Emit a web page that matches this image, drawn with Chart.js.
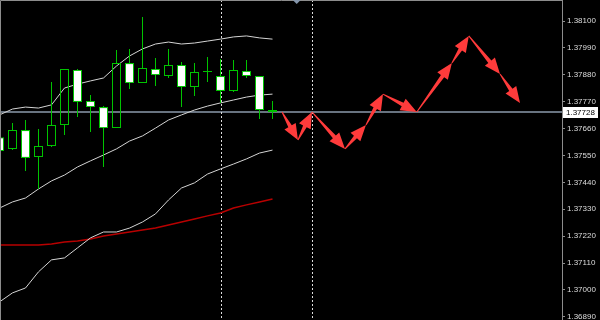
<!DOCTYPE html>
<html>
<head>
<meta charset="UTF-8">
<title>Price chart</title>
<script src="https://cdn.jsdelivr.net/npm/chart.js"></script>
<style>
    html,body{margin:0;padding:0;background:#000;}
    .wrap{width:600px;height:320px;}
</style>
</head>
<body>
<div class="wrap"><canvas id="priceChart" width="600" height="320"></canvas></div>
<script>
/* candles, oldest first (index = bar number) */
const opens  = [1.37625,1.37577,1.37654,1.37544,1.37589,1.37675,1.37900,1.37773,1.37748,1.37662,1.37928,
                1.37846,1.37904,1.37875,1.37920,1.37830,1.37891,1.37875,1.37814,1.37896,1.37875,1.37736];
const highs  = [1.37650,1.37683,1.37695,1.37658,1.37851,1.37904,1.37904,1.37797,1.37752,1.37981,1.37986,
                1.38116,1.37949,1.37986,1.37932,1.37928,1.37953,1.37945,1.37941,1.37941,1.37875,1.37773];
const lows   = [1.37560,1.37572,1.37487,1.37413,1.37585,1.37634,1.37707,1.37646,1.37503,1.37662,1.37822,
                1.37846,1.37834,1.37867,1.37748,1.37793,1.37851,1.37765,1.37810,1.37867,1.37699,1.37699];
const closes = [1.37568,1.37654,1.37540,1.37589,1.37675,1.37904,1.37769,1.37748,1.37662,1.37928,1.37846,
                1.37908,1.37879,1.37920,1.37830,1.37891,1.37891,1.37814,1.37900,1.37875,1.37736,1.37728];

/* indicators */
const upperBand  = [1.37716,1.37740,1.37748,1.37744,1.37757,1.37826,1.37842,1.37855,1.37867,1.37916,1.37957,
                    1.37986,1.38006,1.38014,1.38006,1.38010,1.38018,1.38026,1.38035,1.38039,1.38031,1.38026];
const middleBand = [1.37335,1.37360,1.37376,1.37413,1.37446,1.37470,1.37503,1.37528,1.37552,1.37577,1.37609,
                    1.37630,1.37662,1.37695,1.37716,1.37736,1.37752,1.37765,1.37777,1.37789,1.37797,1.37801];
const lowerBand  = [1.36951,1.36988,1.37008,1.37074,1.37123,1.37131,1.37172,1.37213,1.37237,1.37237,1.37253,
                    1.37278,1.37311,1.37368,1.37417,1.37438,1.37474,1.37495,1.37515,1.37536,1.37560,1.37572];
const maLine     = [1.37184,1.37184,1.37184,1.37184,1.37188,1.37196,1.37200,1.37208,1.37221,1.37229,1.37237,
                    1.37245,1.37253,1.37266,1.37278,1.37290,1.37303,1.37315,1.37335,1.37348,1.37360,1.37372];

/* forecast path (arrows) */
const forecastX = [21.73,22.96,24.04,26.58,28.19,29.5,32.1,34.8,36.1,38.5,40.04];
const forecastY = [1.37728,1.37613,1.37728,1.37577,1.37675,1.37801,1.37728,1.37928,1.38039,1.37883,1.37765];

/* price axis */
const priceTicks = [1.38100,1.37990,1.37880,1.37770,1.37660,1.37550,1.37440,1.37330,1.37220,1.37110,1.37000,1.36890];
const bidPrice = 1.37728;
const separators = [17, 24];
const shiftMarker = 22.86;

const GREEN = '#00c400';
const isBear = i => closes[i] < opens[i];

const idx = opens.map((_, i) => i);
const bodies = idx.map(i => ({x: i, y: [opens[i], closes[i]]}));
const upWicks = idx.map(i => ({x: i, y: [Math.max(opens[i], closes[i]), highs[i]]}));
const loWicks = idx.map(i => ({x: i, y: [lows[i], Math.min(opens[i], closes[i])]}));
const asLine = arr => arr.map((v, i) => ({x: i, y: v}));

function drawArrow(ctx, x0, y0, x1, y1){
    const dx = x1 - x0, dy = y1 - y0, len = Math.hypot(dx, dy);
    const ux = dx / len, uy = dy / len, nx = -uy, ny = ux;
    const head = Math.min(16, len * 0.55), hw = 6.5, sw = 2;
    const bx = x1 - ux * head, by = y1 - uy * head;
    ctx.beginPath();
    ctx.moveTo(x0 + nx * 0.5, y0 + ny * 0.5);
    ctx.lineTo(bx + nx * sw, by + ny * sw);
    ctx.lineTo(bx + nx * hw, by + ny * hw);
    ctx.lineTo(x1, y1);
    ctx.lineTo(bx - nx * hw, by - ny * hw);
    ctx.lineTo(bx - nx * sw, by - ny * sw);
    ctx.lineTo(x0 - nx * 0.5, y0 - ny * 0.5);
    ctx.closePath();
    ctx.fill();
}

const decorations = {
    id: 'decorations',
    beforeDatasetsDraw(chart){
        const {ctx, chartArea: a, scales: {x, y}} = chart;
        ctx.save();
        // bid line
        const by = Math.round(y.getPixelForValue(bidPrice));
        ctx.strokeStyle = '#687380';
        ctx.lineWidth = 2;
        ctx.beginPath(); ctx.moveTo(a.left, by); ctx.lineTo(a.right, by); ctx.stroke();
        // period separators
        ctx.strokeStyle = '#dcdcdc';
        ctx.lineWidth = 1;
        ctx.setLineDash([2, 2]);
        separators.forEach(s => {
            const px = Math.round(x.getPixelForValue(s)) + 0.5;
            ctx.beginPath(); ctx.moveTo(px, a.top); ctx.lineTo(px, a.bottom); ctx.stroke();
        });
        ctx.restore();
    },
    afterDatasetsDraw(chart){
        const {ctx, chartArea: a, scales: {x}} = chart;
        const pts = chart.getDatasetMeta(chart.data.datasets.length - 1).data;
        ctx.save();
        ctx.beginPath(); ctx.rect(a.left, a.top, a.right - a.left, a.bottom - a.top); ctx.clip();
        ctx.fillStyle = '#ff3b3b';
        for (let i = 1; i < pts.length; i++) drawArrow(ctx, pts[i-1].x, pts[i-1].y, pts[i].x, pts[i].y);
        // frame
        ctx.strokeStyle = '#8c8c8c';
        ctx.lineWidth = 1;
        ctx.beginPath();
        ctx.moveTo(a.left + 0.5, a.bottom); ctx.lineTo(a.left + 0.5, a.top + 0.5); ctx.lineTo(a.right, a.top + 0.5);
        ctx.stroke();
        // chart shift marker
        const mx = x.getPixelForValue(shiftMarker);
        ctx.fillStyle = '#8495ab';
        ctx.beginPath(); ctx.moveTo(mx - 4, a.top); ctx.lineTo(mx + 4, a.top); ctx.lineTo(mx, a.top + 4); ctx.closePath(); ctx.fill();
        ctx.restore();
    },
    afterDraw(chart){
        const {ctx, chartArea: a, scales: {y}} = chart;
        const by = Math.round(y.getPixelForValue(bidPrice));
        ctx.save();
        ctx.fillStyle = '#ffffff';
        ctx.fillRect(a.right + 1, by - 5, 35, 11);
        ctx.fillStyle = '#000000';
        ctx.font = '8px "Liberation Sans", Arial, sans-serif';
        ctx.textBaseline = 'middle';
        ctx.fillText(bidPrice.toFixed(5), a.right + 4, by + 0.5);
        ctx.restore();
    }
};

const barCommon = {type: 'bar', grouped: false, inflateAmount: 0, borderSkipped: false};
const lineCommon = {type: 'line', pointRadius: 0, tension: 0, fill: false};

new Chart(document.getElementById('priceChart'), {
    type: 'bar',
    data: {
        datasets: [
            {...barCommon, data: bodies, barThickness: 9, minBarLength: 1, borderWidth: 1,
             borderColor: GREEN, backgroundColor: idx.map(i => isBear(i) ? '#ffffff' : 'rgba(0,0,0,0)')},
            {...barCommon, data: upWicks, barThickness: 1, borderWidth: 0, backgroundColor: GREEN},
            {...barCommon, data: loWicks, barThickness: 1, borderWidth: 0, backgroundColor: GREEN},
            {...lineCommon, data: asLine(upperBand),  borderColor: '#d4d4d4', borderWidth: 1},
            {...lineCommon, data: asLine(middleBand), borderColor: '#d4d4d4', borderWidth: 1},
            {...lineCommon, data: asLine(lowerBand),  borderColor: '#d4d4d4', borderWidth: 1},
            {...lineCommon, data: asLine(maLine),     borderColor: '#b80000', borderWidth: 1.5},
            {...lineCommon, data: forecastX.map((v, i) => ({x: v, y: forecastY[i]})), showLine: false}
        ]
    },
    options: {
        responsive: false,
        animation: false,
        layout: {padding: 0},
        plugins: {legend: {display: false}, tooltip: {enabled: false}},
        scales: {
            x: {
                type: 'linear', display: false, offset: false, bounds: 'data',
                min: 0.03846, max: 43.2692
            },
            y: {
                type: 'linear', position: 'right', bounds: 'data',
                min: 1.36877, max: 1.38186,
                afterBuildTicks: s => { s.ticks = priceTicks.map(v => ({value: v})); },
                afterFit: s => { s.width = 38; s.paddingTop = 0; s.paddingBottom = 0; },
                border: {color: '#8c8c8c', width: 1},
                grid: {drawOnChartArea: false, drawTicks: true, tickLength: 3, color: '#8c8c8c'},
                ticks: {
                    color: '#dcdcdc', padding: 2, autoSkip: false,
                    font: {family: 'Liberation Sans', size: 8},
                    callback: v => Number(v).toFixed(5)
                }
            }
        }
    },
    plugins: [decorations]
});
</script>
</body>
</html>
